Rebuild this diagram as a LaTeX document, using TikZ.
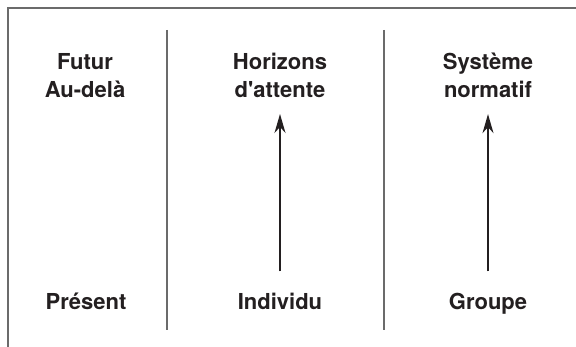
\documentclass[tikz,border=0pt]{standalone}
\usepackage{fontspec}
\setmainfont{TeX Gyre Heros}[Ligatures=TeXOff]
\usepackage{tikz}
\usetikzlibrary{arrows.meta}
\usepackage{xcolor}
\definecolor{rulegray}{HTML}{6B6B6B}
\definecolor{inkblack}{HTML}{231F20}

\begin{document}
\begin{tikzpicture}[x=1pt, y=-1pt,
    rule/.style={rulegray, line width=1.6pt},
    sep/.style={rulegray, line width=1.3pt},
    label/.style={inkblack, font=\bfseries\fontsize{22}{28}\selectfont, align=center, inner sep=0pt},
    rise/.style={inkblack, line width=1.6pt, -{Stealth[length=19pt, width=11pt, inset=6pt]}}]
		\useasboundingbox (0,0) rectangle (576,347);
		\draw[rule] (576,8)--(8,8)--(8,347);
		\draw[sep] (167,30)--(167,330);
		\draw[sep] (384,30)--(384,330);
		\node[label, anchor=north] (futur)     at (85,53)  {Futur\\Au-delà};
		\node[label, anchor=north] (horizons)  at (280,53) {Horizons\\d'attente};
		\node[label, anchor=north] (systeme)   at (488,53) {Système\\normatif};
		\node[label, anchor=base]  (present)   at (86,310)  {Présent};
		\node[label, anchor=base]  (individu)  at (280,310) {Individu};
		\node[label, anchor=base]  (groupe)    at (488,310) {Groupe};
		\draw[rise, shorten <=22pt, shorten >=16pt] (individu.north) -- (horizons.south);
		\draw[rise, shorten <=22pt, shorten >=16pt] (groupe.north) -- (systeme.south);
\end{tikzpicture}
\end{document}
